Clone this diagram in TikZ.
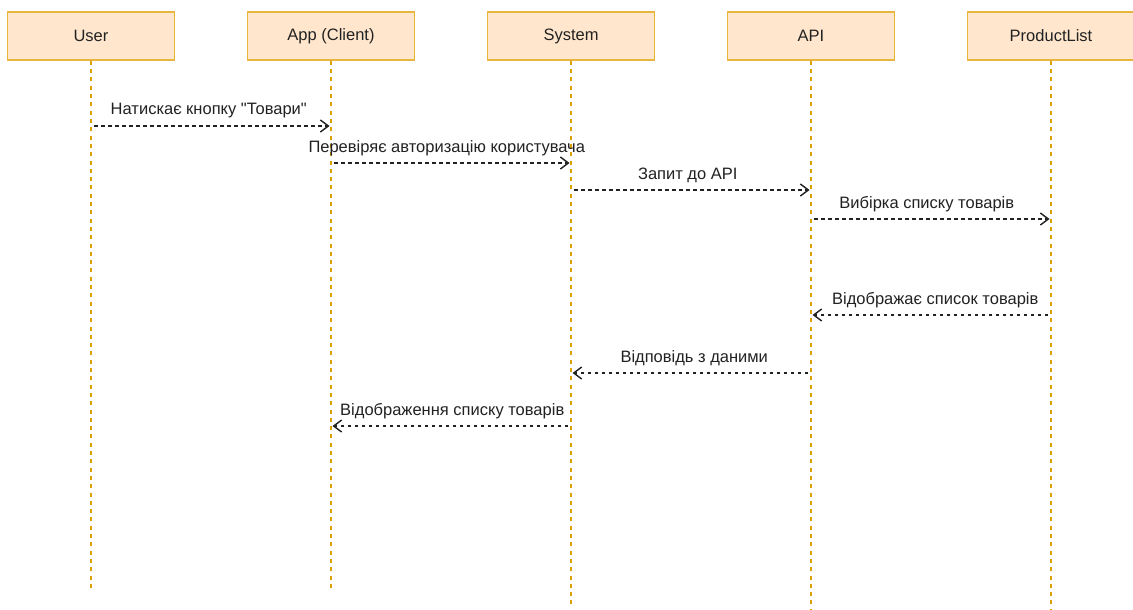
\documentclass[tikz,border=0pt]{standalone}
\usepackage{fontspec}
\setmainfont{Liberation Sans}[Ligatures=TeXOff]
\usetikzlibrary{arrows.meta}
\definecolor{boxfill}{HTML}{FFE6CC}
\definecolor{boxline}{HTML}{E8B53E}
\definecolor{lifecol}{HTML}{DAA000}
\definecolor{msgcol}{HTML}{222222}
\tikzset{
  actor/.style={draw=boxline, fill=boxfill, line width=1.8pt,
    minimum width=167pt, minimum height=48pt, inner sep=0pt,
    font=\fontsize{16.5}{19}\selectfont, text=msgcol},
  lifeline/.style={draw=lifecol, line width=2pt, dash pattern=on 4pt off 4.3pt},
  msg/.style={draw=msgcol, line width=1.4pt, dash pattern=on 3.5pt off 3.5pt,
    -{Straight Barb[length=8pt,width=12pt,line width=1.4pt]}},
  msglabel/.style={midway, yshift=15pt, inner sep=0pt, text=msgcol,
    font=\fontsize{16.5}{19}\selectfont}
}
\begin{document}
\begin{tikzpicture}[x=1pt, y=-1pt]
\useasboundingbox[fill=white] (0,0) rectangle (1133,610);

% lifeline ends
\coordinate (userEnd) at (91,588);
\coordinate (appEnd)  at (331,588);
\coordinate (sysEnd)  at (571,605);
\coordinate (apiEnd)  at (811,610);
\coordinate (prodEnd) at (1051,610);

% participants
\node[actor] (user) at (91,36) {User};
\node[actor] (app)  at (331,36) {App (Client)};
\node[actor] (sys)  at (571,36) {System};
\node[actor] (api)  at (811,36) {API};
\node[actor] (prod) at (1051,36) {ProductList};

% lifelines
\draw[lifeline] (user.south) -- (userEnd);
\draw[lifeline] (app.south)  -- (appEnd);
\draw[lifeline] (sys.south)  -- (sysEnd);
\draw[lifeline] (api.south)  -- (apiEnd);
\draw[lifeline] (prod.south) -- (prodEnd);

% messages
\draw[msg] ([xshift=3pt]user |- 0,126) -- ([xshift=-1.5pt]app |- 0,126)
  node[msglabel, xshift=-3pt] {Натискає кнопку "Товари"};
\draw[msg] ([xshift=3pt]app |- 0,163) -- ([xshift=-1.5pt]sys |- 0,163)
  node[msglabel, xshift=-5pt] {Перевіряє авторизацію користувача};
\draw[msg] ([xshift=3pt]sys |- 0,190) -- ([xshift=-1.5pt]api |- 0,190)
  node[msglabel, xshift=-4pt] {Запит до API};
\draw[msg] ([xshift=3pt]api |- 0,219) -- ([xshift=-1.5pt]prod |- 0,219)
  node[msglabel, xshift=-5pt] {Вибірка списку товарів};
\draw[msg] ([xshift=-3pt]prod |- 0,315) -- ([xshift=1.5pt]api |- 0,315)
  node[msglabel, xshift=5pt] {Відображає список товарів};
\draw[msg] ([xshift=-3pt]api |- 0,373) -- ([xshift=1.5pt]sys |- 0,373)
  node[msglabel, xshift=4pt] {Відповідь з даними};
\draw[msg] ([xshift=-3pt]sys |- 0,426) -- ([xshift=1.5pt]app |- 0,426)
  node[msglabel, xshift=2pt] {Відображення списку товарів};
\end{tikzpicture}
\end{document}
